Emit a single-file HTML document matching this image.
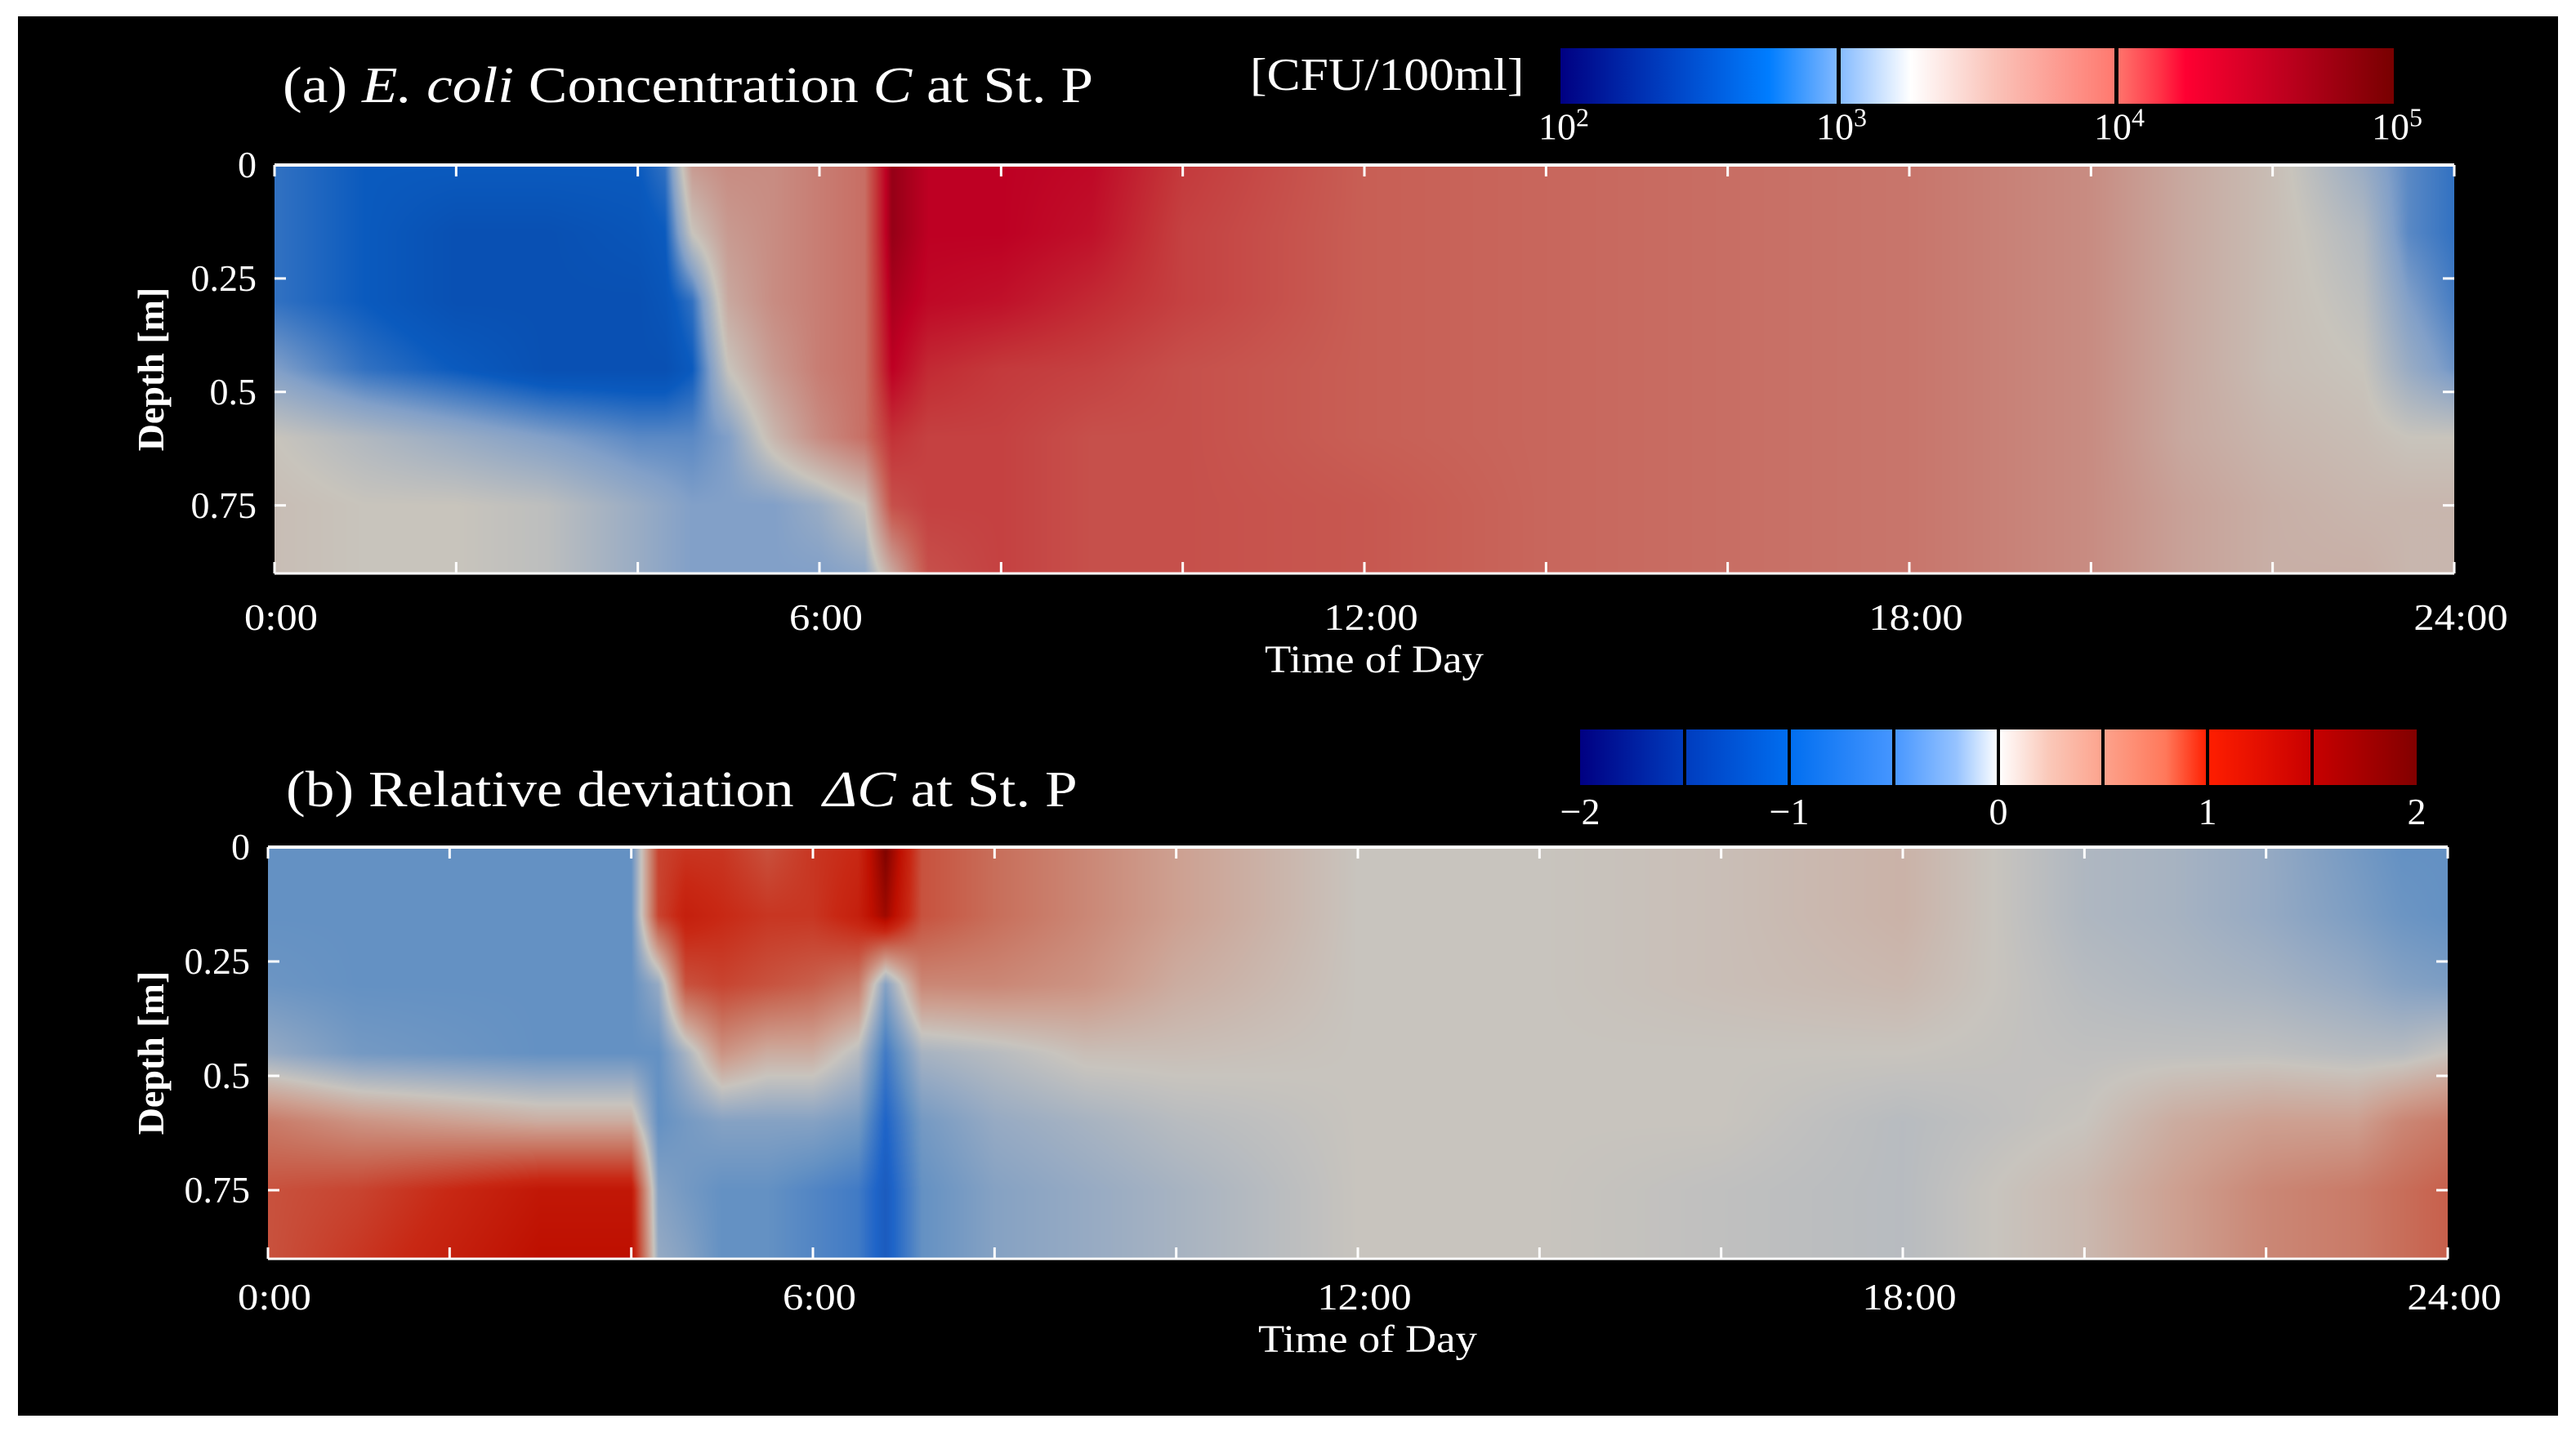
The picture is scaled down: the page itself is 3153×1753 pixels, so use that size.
<!DOCTYPE html>
<html><head><meta charset="utf-8"><style>
html,body{margin:0;padding:0;background:#fff;}
#root{position:relative;width:3153px;height:1753px;background:#fff;overflow:hidden;font-family:"Liberation Serif",serif;color:#fff;}
#bg{position:absolute;left:22px;top:20px;width:3109px;height:1713px;background:#000;}
.t{position:absolute;white-space:nowrap;line-height:1;}
canvas{position:absolute;}
svg{position:absolute;left:0;top:0;}
</style></head><body>
<div id="root">
<div id="bg"></div>
<canvas id="ca" width="2668" height="500" style="left:336px;top:202px"></canvas>
<canvas id="cb" width="2668" height="504" style="left:328px;top:1037px"></canvas>
<svg id="ov" width="3153" height="1753"></svg>

<div class="t" style="left:346px;top:74px;font-size:62px;transform:scaleX(1.15);transform-origin:0 0">(a) <i>E. coli</i> Concentration <i>C</i> at St. P</div>
<div class="t" style="left:1530px;top:64px;font-size:56px;transform:scaleX(1.1);transform-origin:0 0">[CFU/100ml]</div>
<div class="t" style="left:350px;top:936px;font-size:62px;transform:scaleX(1.15);transform-origin:0 0">(b) Relative deviation &nbsp;<i>ΔC</i> at St. P</div>

<div style="position:absolute;left:1910px;top:59px;width:1020px;height:68px;background:linear-gradient(90deg,rgb(0,0,130) 0%,rgb(0,70,200) 14%,rgb(0,125,255) 25%,rgb(130,185,255) 33.3%,rgb(255,255,255) 42%,rgb(250,195,185) 52%,rgb(255,120,110) 66.6%,rgb(255,50,70) 72%,rgb(255,0,50) 75%,rgb(190,0,30) 87%,rgb(120,0,0) 100%)">
<div style="position:absolute;left:338px;top:0;width:5px;height:68px;background:#000"></div>
<div style="position:absolute;left:678px;top:0;width:5px;height:68px;background:#000"></div>
</div>
<div id="cbb" style="position:absolute;left:1934px;top:893px;width:1024px;height:68px;background:linear-gradient(90deg,rgb(0,0,130) 0%,rgb(0,60,190) 12.5%,rgb(0,110,240) 25%,rgb(70,150,255) 37.5%,rgb(150,195,255) 45%,rgb(255,255,255) 50%,rgb(250,200,185) 56%,rgb(255,120,90) 70%,rgb(255,30,0) 75%,rgb(200,0,0) 87.5%,rgb(130,0,0) 100%)"></div>
</div>
<script>
// ---- data ----
const timesH = [0,1,2,3,4,4.3,4.6,5,5.5,6,6.5,6.8,7.2,8,9,10,12,14,16,18,20,21,22,23,23.5,24];
const depthsM = [0,0.15,0.3,0.45,0.6,0.75,0.9];
const logC_d0   = [2.8,2.7,2.7,2.7,2.7,2.8,3.6,3.7,3.7,3.8,3.9,4.8,4.6,4.6,4.55,4.25,4.0,3.95,3.9,3.85,3.7,3.5,3.35,3.1,2.9,2.8];
const logC_d15  = [2.8,2.7,2.6,2.6,2.65,2.7,3.3,3.6,3.7,3.8,3.9,4.8,4.6,4.6,4.5,4.2,4.0,3.95,3.9,3.85,3.7,3.5,3.35,3.2,2.9,2.8];
const logC_d30  = [2.8,2.7,2.6,2.6,2.6,2.65,2.8,3.5,3.7,3.8,3.9,4.7,4.55,4.5,4.35,4.2,4.0,3.95,3.9,3.85,3.7,3.5,3.35,3.25,3.0,2.85];
const logC_d45  = [3.0,2.8,2.7,2.6,2.6,2.6,2.7,3.3,3.6,3.8,3.9,4.6,4.35,4.25,4.2,4.1,4.0,3.95,3.9,3.85,3.7,3.5,3.35,3.3,3.1,2.95];
const logC_d60  = [3.3,3.2,3.1,3.0,2.9,2.9,2.9,3.0,3.4,3.7,3.9,4.3,4.2,4.2,4.1,4.1,4.0,3.95,3.9,3.85,3.7,3.5,3.4,3.35,3.3,3.3];
const logC_d75  = [3.35,3.3,3.3,3.25,3.1,3.05,3.0,3.0,3.0,3.1,3.3,4.1,4.2,4.2,4.1,4.1,4.05,3.95,3.9,3.85,3.7,3.55,3.45,3.4,3.4,3.4];
const logC_d90  = [3.35,3.3,3.3,3.25,3.1,3.05,3.0,3.0,3.0,3.0,3.05,3.5,4.1,4.2,4.1,4.1,4.05,3.95,3.9,3.85,3.7,3.55,3.45,3.45,3.4,3.4];
const dC_d0   = [-0.6,-0.6,-0.6,-0.6,-0.6,1.0,1.1,1.1,0.9,1.1,1.2,1.9,0.9,0.7,0.5,0.3,0,0,0.05,0.15,-0.15,-0.2,-0.3,-0.5,-0.6,-0.6];
const dC_d15  = [-0.6,-0.6,-0.6,-0.6,-0.6,1.0,1.3,1.2,1.1,1.1,1.3,1.7,0.9,0.7,0.5,0.3,0,0,0.05,0.15,-0.15,-0.2,-0.3,-0.45,-0.55,-0.6];
const dC_d30  = [-0.55,-0.6,-0.6,-0.6,-0.6,-0.3,0.9,1.0,0.9,0.8,0.6,-0.4,0.5,0.5,0.4,0.2,0,0,0.05,0.1,-0.1,-0.15,-0.2,-0.3,-0.4,-0.45];
const dC_d45  = [-0.3,-0.5,-0.55,-0.6,-0.6,-0.6,-0.2,0.4,0.2,0.2,-0.1,-0.8,-0.2,-0.1,0.05,0.05,0,0,0,0,-0.05,-0.05,-0.05,-0.1,-0.1,0];
const dC_d60  = [0.6,0.4,0.3,0.2,0.2,-0.6,-0.5,-0.4,-0.4,-0.4,-0.5,-1.0,-0.5,-0.3,-0.2,-0.1,0,0,0,-0.1,0,0.2,0.3,0.3,0.5,0.6];
const dC_d75  = [0.9,1.0,1.2,1.4,1.4,-0.4,-0.5,-0.6,-0.6,-0.7,-0.8,-1.1,-0.6,-0.4,-0.3,-0.2,0,0,-0.05,-0.1,0.1,0.3,0.5,0.6,0.7,0.8];
const dC_d90  = [0.9,1.1,1.3,1.5,1.5,-0.3,-0.4,-0.6,-0.6,-0.7,-0.8,-1.1,-0.6,-0.4,-0.3,-0.2,0,0,-0.05,-0.1,0.1,0.3,0.5,0.6,0.7,0.8];
const xTickLabels = ["0:00","6:00","12:00","18:00","24:00"];
const xTickHours = [0,6,12,18,24];
const yTickLabels = ["0","0.25","0.5","0.75"];
const yTickDepths = [0,0.25,0.5,0.75];
const cbaLabels = ["2","3","4","5"];
const cbbLabels = ["\u22122","\u22121","0","1","2"];
const gridA = [logC_d0,logC_d15,logC_d30,logC_d45,logC_d60,logC_d75,logC_d90];
const gridB = [dC_d0,dC_d15,dC_d30,dC_d45,dC_d60,dC_d75,dC_d90];

const mapA = [[2,0,20,110],[2.7,10,90,190],[3.0,130,160,200],[3.3,200,196,188],[3.7,200,140,130],[4.0,200,95,85],[4.3,195,50,55],[4.6,190,0,35],[5,110,0,10]];
const mapB = [[-2,0,20,110],[-1,30,100,200],[-0.6,100,145,195],[-0.3,150,170,195],[0,200,196,190],[0.3,205,160,145],[0.7,200,110,90],[1.2,200,40,20],[1.5,190,15,0],[2,110,0,0]];

function cmap(m,v){
  if(v<=m[0][0]) return m[0].slice(1);
  for(let i=1;i<m.length;i++){ if(v<=m[i][0]){const a=m[i-1],b=m[i],f=(v-a[0])/(b[0]-a[0]);return [a[1]+f*(b[1]-a[1]),a[2]+f*(b[2]-a[2]),a[3]+f*(b[3]-a[3])];}}
  return m[m.length-1].slice(1);
}
function seg(arr,v){let i=0;while(i<arr.length-2&&v>arr[i+1])i++;return [i,(v-arr[i])/(arr[i+1]-arr[i])];}
function drawHeat(id,grid,m){
  const c=document.getElementById(id),ctx=c.getContext('2d'),W=c.width,H=c.height;
  const img=ctx.createImageData(W,H);
  const tMax=timesH[timesH.length-1], dMax=depthsM[depthsM.length-1];
  const cols=[];for(let x=0;x<W;x++)cols.push(seg(timesH,(x+0.5)/W*tMax));
  for(let y=0;y<H;y++){
    const [j,fy]=seg(depthsM,(y+0.5)/H*dMax);
    const r0=grid[j],r1=grid[j+1];
    for(let x=0;x<W;x++){
      const [i,fx]=cols[x];
      const v=(r0[i]*(1-fx)+r0[i+1]*fx)*(1-fy)+(r1[i]*(1-fx)+r1[i+1]*fx)*fy;
      const col=cmap(m,v),k=(y*W+x)*4;
      img.data[k]=col[0];img.data[k+1]=col[1];img.data[k+2]=col[2];img.data[k+3]=255;
    }
  }
  ctx.putImageData(img,0,0);
}
drawHeat('ca',gridA,mapA);
drawHeat('cb',gridB,mapB);

const NS="http://www.w3.org/2000/svg",ov=document.getElementById('ov'),root=document.getElementById('root');
function ln(x1,y1,x2,y2,w,name){const l=document.createElementNS(NS,'line');
l.setAttribute('x1',x1);l.setAttribute('y1',y1);l.setAttribute('x2',x2);l.setAttribute('y2',y2);
l.setAttribute('stroke','#fff');l.setAttribute('stroke-width',w);


ov.appendChild(l);}
function txt(s,x,y,size,align,name){const d=document.createElement('div');d.className='t';d.innerHTML=s;d.style.fontSize=size+'px';
d.style.left=x+'px';d.style.top=y+'px';d.style.transform=align;


root.appendChild(d);}
function axes(L,T,W,H,xlabY,titleY){
  const xs=h=>L+h/24*W, ys=d=>T+d/0.9*H;
  ln(L,T,L+W,T,4,'plot-top-border');
  for(let h=0;h<=24;h+=2){ln(xs(h),T,xs(h),T+14,3,'x-tick-top');ln(xs(h),T+H-14,xs(h),T+H,3,'x-tick-bottom');}
  yTickDepths.forEach(d=>{ln(L,ys(d),L+14,ys(d),3,'y-tick-left');ln(L+W-14,ys(d),L+W,ys(d),3,'y-tick-right');});
  ln(L,T+H,L+W,T+H,3,'plot-bottom-border');
  xTickHours.forEach((h,i)=>txt(xTickLabels[i],xs(h)+8,xlabY,46,'translate(-50%,-50%) scaleX(1.1)','x-tick-label'));
  yTickDepths.forEach((d,i)=>txt(yTickLabels[i],L-22,ys(d),46,'translate(-100%,-50%)','y-tick-label'));
  txt('Time of Day',L+W/2+12,titleY,48,'translate(-50%,-50%) scaleX(1.1)','x-axis-title');
  txt('<b>Depth [m]</b>',185,T+H/2,46,'translate(-50%,-50%) rotate(-90deg)','y-axis-title');
}
axes(336,202,2668,500,756,808);
axes(328,1037,2668,504,1588,1640);
// colorbar labels
cbaLabels.forEach((p,i)=>txt('10<sup style="font-size:32px">'+p+'</sup>',1910+i*340+4,153,46,'translate(-50%,-50%)','colorbar-a-tick-label'));
cbbLabels.forEach((s,i)=>txt(s,1934+i*256,994,46,'translate(-50%,-50%)','colorbar-b-tick-label'));
// colorbar b separators
const cbb=document.getElementById('cbb');
for(let i=1;i<8;i++){const d=document.createElement('div');d.style.cssText='position:absolute;top:0;width:4px;height:68px;background:#000;left:'+(i*128-2)+'px';


cbb.appendChild(d);}
</script>
</body></html>
